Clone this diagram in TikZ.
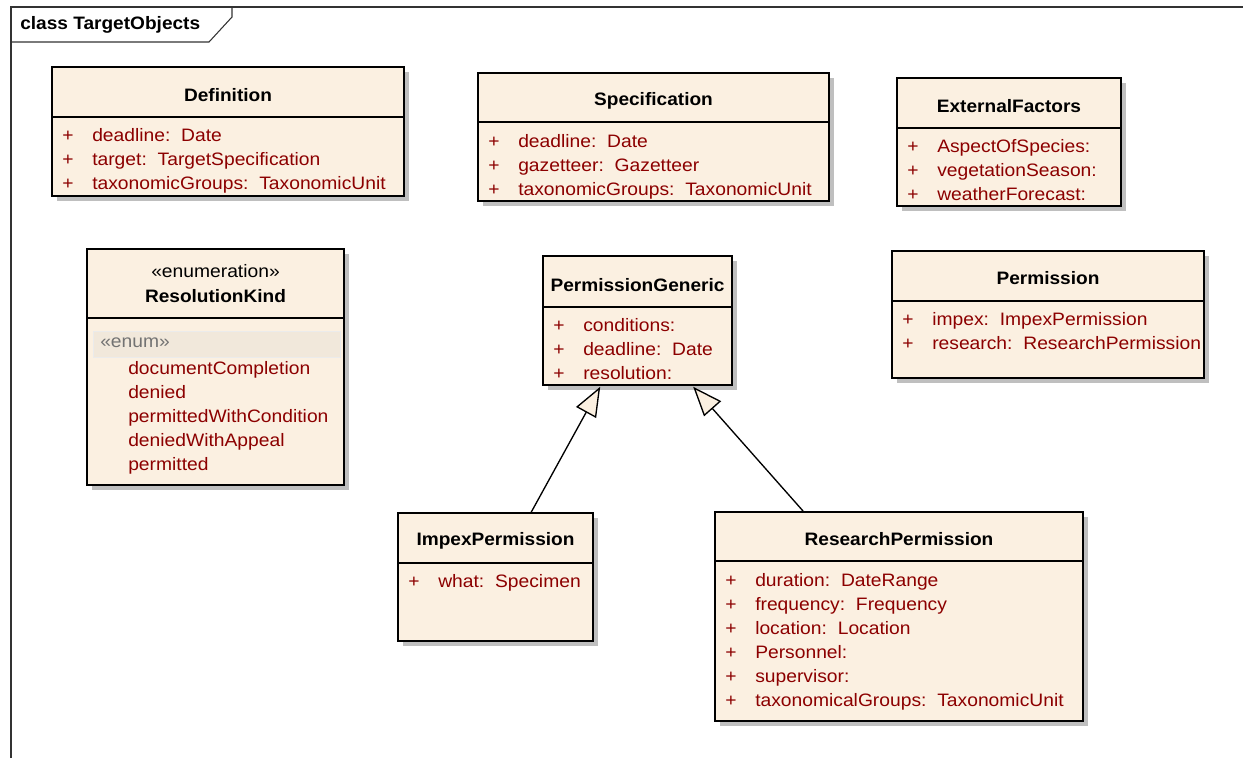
\documentclass[tikz,border=0pt]{standalone}
\usepackage{fontspec}
\setmainfont{Liberation Sans}[FakeStretch=1.07, BoldFeatures={FakeStretch=1.06}]
\usetikzlibrary{arrows.meta,fit,shadows,calc}
\definecolor{klassefill}{RGB}{251,240,225}
\definecolor{attrrot}{RGB}{140,0,0}
\definecolor{enumband}{RGB}{241,232,219}
\tikzset{
  klasse/.style={draw=black, line width=1.2pt, fill=klassefill, inner sep=0pt,
    drop shadow={shadow xshift=4pt, shadow yshift=-4pt, fill=black!25, opacity=1}},
  titel/.style={font=\bfseries\fontsize{13.5}{18}\selectfont, inner sep=0pt},
  attrib/.style={font=\fontsize{13.5}{18}\selectfont, text=attrrot, anchor=north west,
    align=left, inner sep=0pt},
  trenner/.style={line width=1.2pt},
  rahmen/.style={line width=0.8pt, draw=black!80},
  spezial/.style={-{Triangle[length=22pt,width=17pt,fill=klassefill]}, line width=1pt}
}
\newcommand{\attr}[2]{\makebox[22.5pt][l]{+}#1:\hspace{0.6em}#2}
\begin{document}
\begin{tikzpicture}[x=0.75pt,y=-0.75pt]
        \useasboundingbox (0,0) rectangle (1243,758);
        % Rahmen
        \draw[rahmen] (11,758) -- (11,7) -- (1243,7);
        \draw[rahmen] (11,42) -- (209,42) -- (232,17) -- (232,7);
        \node[titel, anchor=west] (rahmentitel) at (20,25) {class TargetObjects};
        % Definition
        \node[klasse, fit={(52,67) (404,196)}] (definition) {};
        \draw[trenner] (52,117) -- (404,117);
        \node[titel] (definitiontitel) at (228,95) {Definition};
        \node[attrib] (definitionattr) at (62,128.5) {\attr{deadline}{Date}\\
          \attr{target}{TargetSpecification}\\ \attr{taxonomicGroups}{TaxonomicUnit}};
        % Specification
        \node[klasse, fit={(478,73) (829,201)}] (specification) {};
        \draw[trenner] (478,122) -- (829,122);
        \node[titel] (specificationtitel) at (653.5,101) {Specification};
        \node[attrib] (specificationattr) at (488,134.5) {\attr{deadline}{Date}\\
          \attr{gazetteer}{Gazetteer}\\ \attr{taxonomicGroups}{TaxonomicUnit}};
        % ExternalFactors
        \node[klasse, fit={(897,78) (1121,206)}] (externalfactors) {};
        \draw[trenner] (897,128) -- (1121,128);
        \node[titel] (externalfactorstitel) at (1009,106) {ExternalFactors};
        \node[attrib] (externalfactorsattr) at (907,139.5) {\attr{AspectOfSpecies}{}\\
          \attr{vegetationSeason}{}\\ \attr{weatherForecast}{}};
        % ResolutionKind
        \node[klasse, fit={(87,249) (344,485)}] (resolutionkind) {};
        \draw[trenner] (87,318) -- (344,318);
        \node[font=\fontsize{13.5}{18}\selectfont, inner sep=0pt] (stereotyp) at (215.5,271) {«enumeration»};
        \node[titel] (resolutionkindtitel) at (215.5,296) {ResolutionKind};
        \node[fill=enumband, draw=black!8, fit={(93,331) (340,357)}, inner sep=0pt] (enumband) {};
        \node[font=\fontsize{13.5}{18}\selectfont, text=black!55, anchor=west, inner sep=0pt] (enumlabel) at (100,343) {«enum»};
        \node[attrib] (resolutionkindattr) at (128,361.5) {documentCompletion\\ denied\\
          permittedWithCondition\\ deniedWithAppeal\\ permitted};
        % PermissionGeneric
        \node[klasse, fit={(543,256) (732,385)}] (permissiongeneric) {};
        \draw[trenner] (543,307) -- (732,307);
        \node[titel] (permissiongenerictitel) at (637.5,285) {PermissionGeneric};
        \node[attrib] (permissiongenericattr) at (553,318.5) {\attr{conditions}{}\\
          \attr{deadline}{Date}\\ \attr{resolution}{}};
        % Permission
        \node[klasse, fit={(892,251) (1204,378)}] (permission) {};
        \draw[trenner] (892,301) -- (1204,301);
        \node[titel] (permissiontitel) at (1048,278) {Permission};
        \node[attrib] (permissionattr) at (902,312.5) {\attr{impex}{ImpexPermission}\\
          \attr{research}{ResearchPermission}};
        % ImpexPermission
        \node[klasse, fit={(398,513) (593,641)}] (impexpermission) {};
        \draw[trenner] (398,563) -- (593,563);
        \node[titel] (impexpermissiontitel) at (495.5,541) {ImpexPermission};
        \node[attrib] (impexpermissionattr) at (408,574.5) {\attr{what}{Specimen}};
        % ResearchPermission
        \node[klasse, fit={(715,512) (1083,721)}] (researchpermission) {};
        \draw[trenner] (715,561) -- (1083,561);
        \node[titel] (researchpermissiontitel) at (899,539) {ResearchPermission};
        \node[attrib] (researchpermissionattr) at (725,573.5) {\attr{duration}{DateRange}\\
          \attr{frequency}{Frequency}\\ \attr{location}{Location}\\ \attr{Personnel}{}\\
          \attr{supervisor}{}\\ \attr{taxonomicalGroups}{TaxonomicUnit}};
        % Generalisierung
        \draw[spezial] ($(impexpermission.north west)+(134,0)$) -- ($(permissiongeneric.south west)+(58,1)$);
        \draw[spezial] ($(researchpermission.north west)+(89,0)$) -- ($(permissiongeneric.south west)+(151,1)$);
\end{tikzpicture}
\end{document}
